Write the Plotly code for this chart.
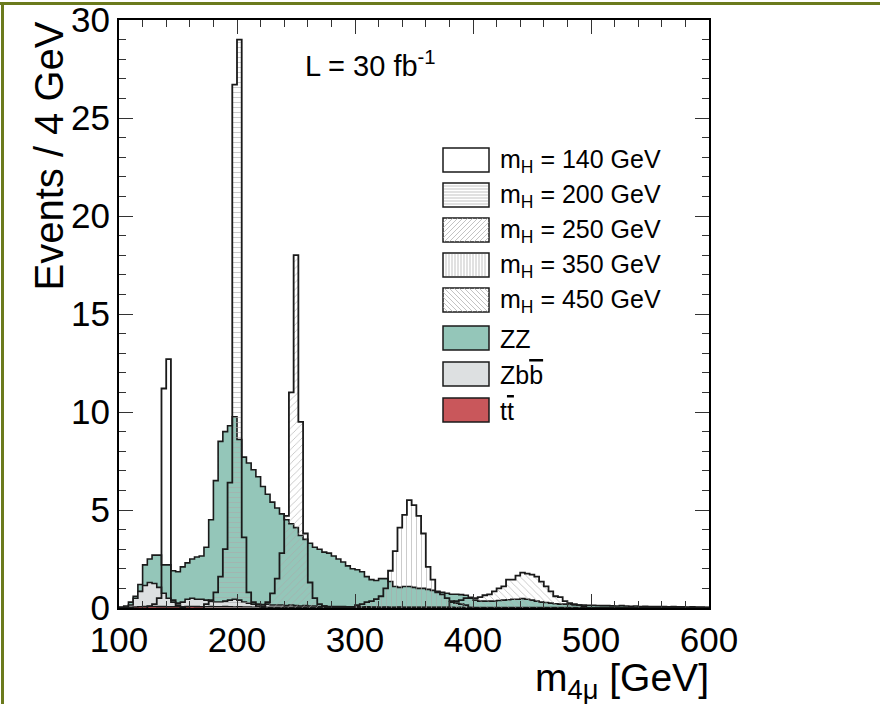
import numpy as np
import plotly.graph_objects as go

# ---------------- data ----------------
bin_width = 4
x_lo, x_hi = 100, 600
edges = np.arange(x_lo, x_hi + bin_width, bin_width)  # 126 edges, 125 bins

# visible stack tops (Events / 4 GeV), bins from 100 to 600
zz_stack_top = [
    0.05, 0.1, 0.3, 0.6, 1.2, 2.2, 2.5, 2.7, 2.7, 2.2,
    2.2, 1.9, 1.85, 2.1, 2.3, 2.5, 2.6, 2.65, 3.1, 4.5,
    6.5, 8.5, 9.0, 9.3, 9.75, 8.6, 7.7, 7.4, 7.05, 6.7,
    6.2, 5.8, 5.4, 5.1, 4.8, 4.5, 4.3, 4.1, 3.7, 3.5,
    3.3, 3.1, 3.0, 2.85, 2.8, 2.65, 2.5, 2.35, 2.15, 2.0,
    1.95, 1.85, 1.6, 1.45, 1.4, 1.5, 1.5, 1.35, 1.1, 1.05,
    1.1, 1.1, 1.05, 1.0, 1.0, 0.95, 0.9, 0.85, 0.8, 0.75,
    0.7, 0.7, 0.68, 0.65, 0.55, 0.4, 0.35, 0.35, 0.35, 0.35,
    0.38, 0.4, 0.42, 0.45, 0.45, 0.48, 0.45, 0.4, 0.35, 0.3,
    0.28, 0.25, 0.22, 0.2, 0.2, 0.18, 0.16, 0.15, 0.15, 0.14,
    0.14, 0.13, 0.12, 0.12, 0.11, 0.1, 0.12, 0.1, 0.09, 0.1,
    0.08, 0.09, 0.08, 0.07, 0.08, 0.07, 0.06, 0.07, 0.06, 0.06,
    0.05, 0.06, 0.05, 0.05, 0.04,
]
zbb_stack_top = [
    0.02, 0.05, 0.15, 0.5, 0.85, 1.15, 1.3, 1.25, 1.05, 0.75,
    0.5, 0.3, 0.25, 0.3, 0.45, 0.5, 0.45, 0.45, 0.4, 0.35,
    0.3, 0.3, 0.35, 0.4, 0.45, 0.4, 0.3, 0.25, 0.2, 0.2,
    0.18, 0.2, 0.15, 0.15, 0.15, 0.12, 0.15, 0.12, 0.1, 0.12,
    0.1, 0.1, 0.08, 0.1, 0.08, 0.08, 0.07, 0.08, 0.06, 0.06,
    0.06, 0.05, 0.06, 0.05, 0.05, 0.04, 0.05, 0.04, 0.04, 0.05,
    0.04, 0.04, 0.03, 0.04, 0.03, 0.04, 0.03, 0.03, 0.03, 0.03,
    0.03, 0.02, 0.03, 0.02, 0.03, 0.02, 0.02, 0.02, 0.02, 0.02,
    0.02, 0.02, 0.02, 0.02, 0.02, 0.02, 0.02, 0.02, 0.02, 0.02,
    0.02, 0.02, 0.02, 0.02, 0.02, 0.02, 0.02, 0.02, 0.02, 0.02,
    0.02, 0.02, 0.02, 0.02, 0.02, 0.02, 0.02, 0.02, 0.02, 0.02,
    0.02, 0.02, 0.02, 0.02, 0.02, 0.02, 0.02, 0.02, 0.02, 0.02,
    0.02, 0.02, 0.02, 0.02, 0.02,
]
tt_values = [
    0.0, 0.01, 0.03, 0.05, 0.06, 0.07, 0.08, 0.08, 0.07, 0.07,
    0.06, 0.06, 0.07, 0.06, 0.07, 0.08, 0.07, 0.06, 0.06, 0.07,
    0.06, 0.06, 0.07, 0.06, 0.05, 0.06, 0.05, 0.05, 0.04, 0.05,
    0.04, 0.04, 0.04, 0.03, 0.04, 0.03, 0.03, 0.03, 0.03, 0.03,
] + [0.02] * 30 + [0.01] * 55

# Higgs signals: first bin lower edge + values per 4 GeV bin
sig140_start = 124
sig140 = [0.1, 0.2, 0.5, 11.2, 12.7, 0.4, 0.15, 0.05]
sig200_start = 172
sig200 = [0.2, 0.4, 0.8, 1.6, 3.0, 6.4, 26.7, 29.0, 3.6, 0.8, 0.3, 0.1]
sig250_start = 220
sig250 = [0.1, 0.3, 0.75, 1.5, 2.8, 4.7, 11.0, 18.0, 9.5, 3.8, 1.3, 0.5, 0.2, 0.1]
sig350_start = 300
sig350 = [0.15, 0.2, 0.3, 0.35, 0.45, 0.6, 1.0, 1.9, 2.9, 4.1, 4.75, 5.5,
          5.25, 4.7, 3.8, 2.1, 1.45, 0.8, 0.7, 0.5, 0.35, 0.25, 0.2, 0.15]
sig450_start = 380
sig450 = [0.3, 0.35, 0.4, 0.5, 0.5, 0.5, 0.55, 0.65, 0.7, 0.85, 1.0, 1.1,
          1.45, 1.45, 1.65, 1.8, 1.75, 1.7, 1.6, 1.35, 1.1, 0.85, 0.6, 0.55,
          0.35, 0.25, 0.2, 0.15, 0.1]

legend_labels = ["m<sub>H</sub> = 140 GeV", "m<sub>H</sub> = 200 GeV",
                 "m<sub>H</sub> = 250 GeV", "m<sub>H</sub> = 350 GeV",
                 "m<sub>H</sub> = 450 GeV", "ZZ",
                 "Zb<span style='text-decoration:overline'>b</span>",
                 "t<span style='text-decoration:overline'>t</span>"]

# ---------------- styles ----------------
FONT = "Liberation Sans, Arial, Helvetica, sans-serif"
NARROW = "Liberation Sans Narrow, Arial Narrow, Liberation Sans, Arial, sans-serif"
TEAL = "#94c6b9"
GREY = "#dde0e1"
RED = "#c9575b"
LINE = "#1a1a1a"
HATCH = "#a9a9a9"
OLIVE = "#6b7a1c"

W, H = 880, 704
L_PX, R_PX, T_PX, B_PX = 119, 709, 20, 608


def px2x(px):
    return (px - L_PX) / (R_PX - L_PX)


def py2y(py):
    return (B_PX - py) / (B_PX - T_PX)


def step_xy(start, values):
    e = start + bin_width * np.arange(len(values) + 1)
    x = np.concatenate([[e[0]], e])
    y = np.concatenate([[0.0], np.asarray(values, float), [0.0]])
    return x, y


fig = go.Figure()

# backgrounds (stacked visual tops)
for vals, col in [(zz_stack_top, TEAL), (zbb_stack_top, GREY), (tt_values, RED)]:
    x, y = step_xy(x_lo, vals)
    fig.add_trace(go.Scatter(x=x, y=y, mode="lines", line=dict(shape="hv", color=LINE, width=1.6),
                             fill="tozeroy", fillcolor=col, hoverinfo="skip", showlegend=False))

# signals
signals = [
    (sig140_start, sig140, None),
    (sig200_start, sig200, "-"),
    (sig250_start, sig250, "/"),
    (sig350_start, sig350, "|"),
    (sig450_start, sig450, "\\"),
]
for start, vals, pat in signals:
    x, y = step_xy(start, vals)
    kw = {}
    if pat is not None:
        kw = dict(fill="tozeroy", fillcolor="rgba(0,0,0,0)",
                  fillpattern=dict(shape=pat, fgcolor=HATCH, size=5, solidity=0.12,
                                   fillmode="replace"))
    fig.add_trace(go.Scatter(x=x, y=y, mode="lines", line=dict(shape="hv", color=LINE, width=1.8),
                             hoverinfo="skip", showlegend=False, **kw))

# ---------------- layout ----------------
shapes = []
annotations = []

# olive page border (top and left)
shapes.append(dict(type="line", xref="paper", yref="paper", x0=px2x(0), x1=px2x(W),
                   y0=py2y(3.5), y1=py2y(3.5), line=dict(color=OLIVE, width=3)))
shapes.append(dict(type="line", xref="paper", yref="paper", x0=px2x(2.5), x1=px2x(2.5),
                   y0=py2y(3.5), y1=py2y(H), line=dict(color=OLIVE, width=3)))

# legend
box_l, box_r = 443, 489
row_c = [160, 195, 230, 265, 300, 338, 374, 410]
box_h = 24
fills = ["white", "white", "white", "white", "white", TEAL, GREY, RED]
hatches = [None, "h", "d", "v", "b", None, None, None]
for i, (c, f, h) in enumerate(zip(row_c, fills, hatches)):
    t, b = c - box_h / 2, c + box_h / 2
    shapes.append(dict(type="rect", xref="paper", yref="paper",
                       x0=px2x(box_l), x1=px2x(box_r), y0=py2y(b), y1=py2y(t),
                       fillcolor=f, line=dict(color=LINE, width=1.5)))
    path = ""
    if h == "h":
        for yy in np.arange(t + 3, b - 1, 3):
            path += f"M{px2x(box_l+1)},{py2y(yy)}L{px2x(box_r-1)},{py2y(yy)}"
    elif h == "v":
        for xx in np.arange(box_l + 3, box_r - 1, 3):
            path += f"M{px2x(xx)},{py2y(t+1)}L{px2x(xx)},{py2y(b-1)}"
    elif h in ("d", "b"):
        for xx in np.arange(box_l - box_h, box_r, 5):
            xa, xb = xx, xx + box_h
            ya, yb = b, t
            if xa < box_l:
                ya = b - (box_l - xa); xa = box_l
            if xb > box_r:
                yb = t + (xb - box_r); xb = box_r
            if xb <= xa:
                continue
            if h == "b":
                xa, xb = box_l + box_r - xa, box_l + box_r - xb
            path += f"M{px2x(xa)},{py2y(ya)}L{px2x(xb)},{py2y(yb)}"
    if path:
        shapes.append(dict(type="path", xref="paper", yref="paper", path=path,
                           line=dict(color=HATCH, width=0.7)))
    annotations.append(dict(xref="paper", yref="paper", x=px2x(498), y=py2y(c + 1),
                            xanchor="left", yanchor="middle", showarrow=False,
                            text=legend_labels[i], font=dict(family=FONT, size=25, color="black")))

# luminosity label
annotations.append(dict(xref="paper", yref="paper", x=px2x(370), y=py2y(64),
                        xanchor="center", yanchor="middle", showarrow=False,
                        text="L = 30 fb<sup>-1</sup>", font=dict(family=FONT, size=29, color="black")))
# axis titles
annotations.append(dict(xref="paper", yref="paper", x=px2x(711), y=py2y(654),
                        xanchor="right", yanchor="top", showarrow=False,
                        text="m<sub>4μ</sub> [GeV]", font=dict(family=NARROW, size=39, color="black")))
annotations.append(dict(xref="paper", yref="paper", x=px2x(24), y=1.0,
                        xanchor="left", yanchor="top", showarrow=False, textangle=-90,
                        text="Events / 4 GeV", font=dict(family=FONT, size=40, color="black")))

fig.update_layout(
    width=W, height=H,
    margin=dict(l=L_PX, r=W - R_PX, t=T_PX, b=H - B_PX, pad=0, autoexpand=False),
    paper_bgcolor="white", plot_bgcolor="white",
    showlegend=False,
    shapes=shapes, annotations=annotations,
    font=dict(family=FONT, color="black"),
)
fig.update_xaxes(range=[x_lo, x_hi], tickmode="linear", tick0=100, dtick=100, automargin=False,
                 ticks="inside", ticklen=14, tickwidth=1.3, tickcolor="#333",
                 minor=dict(ticks="inside", dtick=20, ticklen=7, tickcolor="#333", tickwidth=1),
                 showline=True, linecolor="black", linewidth=2, mirror="allticks",
                 showgrid=False, zeroline=False, ticklabeloverflow="allow",
                 tickfont=dict(family=NARROW, size=35, color="black"))
fig.update_yaxes(range=[0, 30], tickmode="linear", tick0=0, dtick=5, automargin=False,
                 ticks="inside", ticklen=14, tickwidth=1.3, tickcolor="#333",
                 minor=dict(ticks="inside", dtick=1, ticklen=7, tickcolor="#333", tickwidth=1),
                 showline=True, linecolor="black", linewidth=2, mirror="allticks",
                 showgrid=False, zeroline=False, ticklabeloverflow="allow",
                 tickfont=dict(family=NARROW, size=35, color="black"))

fig.write_html("out.html", config={"displayModeBar": False},
               post_script="document.body.style.margin='0';")
